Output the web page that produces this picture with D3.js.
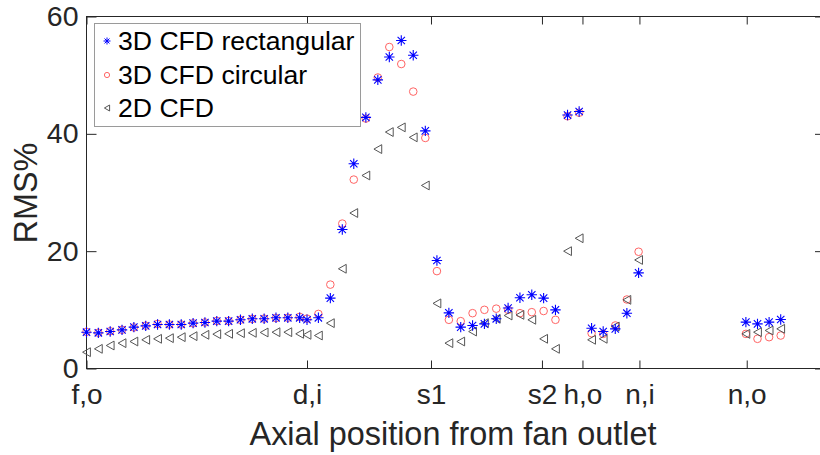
<!DOCTYPE html>
<html>
<head>
<meta charset="utf-8">
<script src="https://cdn.jsdelivr.net/npm/d3@7"></script>
<style>
  body { margin: 0; background: #fff; }
  svg { display: block; font-family: "Liberation Sans", Arial, sans-serif; }
</style>
</head>
<body>
<div id="chart"></div>
<script>
// axial positions (arbitrary units along the duct)
var positions = [0, 1, 2, 3, 4, 5, 6, 7, 8, 9, 10, 11, 12, 13, 14, 15, 16, 17, 18,
  18.62, 19.58, 20.59, 21.6, 22.57, 23.59, 24.6, 25.57, 26.58, 27.59, 28.61,
  29.59, 30.6, 31.6, 32.6, 33.6, 34.6, 35.6, 36.6, 37.6, 38.6, 39.6,
  40.62, 41.6, 42.65, 43.63, 44.65, 45.63, 46.62,
  55.68, 56.66, 57.64, 58.62];

var rectValues = [6.19, 6.08, 6.31, 6.59, 7.05, 7.27, 7.5, 7.5, 7.5, 7.73, 7.84, 8.07, 8.07, 8.3, 8.47, 8.47, 8.64, 8.64, 8.64,
  8.3, 8.64, 12.0, 23.7, 34.9, 42.8, 49.2, 53.1, 55.9, 53.4, 40.5,
  18.4, 9.49, 7.05, 7.33, 7.61, 8.47, 10.3, 12.05, 12.56, 12.0, 10.0,
  43.2, 43.8, 6.87, 6.3, 6.76, 9.43, 16.3,
  7.9, 7.61, 7.9, 8.35];

var circValues = [6.25, 6.1, 6.35, 6.6, 7.0, 7.3, 7.6, 7.5, 7.5, 7.7, 7.85, 8.1, 8.1, 8.3, 8.45, 8.5, 8.6, 8.65, 8.8,
  8.5, 9.3, 14.3, 24.7, 32.2, 42.6, 49.6, 54.8, 51.9, 47.2, 39.3,
  16.6, 8.3, 8.07, 9.43, 10.0, 10.2, 10.0, 9.43, 9.6, 9.8, 8.3,
  43.0, 43.6, 6.02, 5.9, 7.33, 11.76, 19.9,
  5.9, 5.06, 5.34, 5.62];

var cfd2dValues = [2.78, 3.35, 3.92, 4.32, 4.6, 4.89, 5.06, 5.17, 5.34, 5.51, 5.74, 5.85, 5.91, 6.02, 6.08, 6.14, 6.19, 6.19, 5.91,
  5.74, 5.62, 7.73, 17.0, 26.5, 32.9, 37.4, 40.3, 41.1, 39.4, 31.2,
  11.1, 4.32, 4.6, 6.3, 7.73, 8.47, 9.03, 9.14, 8.3, 5.06, 3.35,
  20.0, 22.2, 4.89, 5.06, 7.16, 11.7, 18.5,
  5.9, 6.19, 6.48, 6.76];

var tickNames = ["f,o", "d,i", "s1", "s2", "h,o", "n,i", "n,o"];
var tickPositions = [0, 18.62, 29.09, 38.46, 41.88, 46.69, 55.75];
var yTicks = [0, 20, 40, 60];
var seriesNames = ["3D CFD rectangular", "3D CFD circular", "2D CFD"];

var W = 820, H = 455;
var pLeft = 86.5, pRight = 825, pTop = 16.5, pBottom = 368.5;

var svg = d3.select("#chart").append("svg")
  .attr("width", W)
  .attr("height", H);

var x = d3.scaleLinear().domain([0, 62.36]).range([pLeft, pRight]);
var y = d3.scaleLinear().domain([0, 60]).range([pBottom, pTop]);

var axisColor = "#262626";

// box
svg.append("rect")
  .attr("x", pLeft).attr("y", pTop)
  .attr("width", pRight - pLeft).attr("height", pBottom - pTop)
  .attr("fill", "none").attr("stroke", axisColor).attr("stroke-width", 1);

// bottom axis
var xAxis = d3.axisBottom(x).tickValues(tickPositions)
  .tickFormat(function (d, i) { return tickNames[i]; })
  .tickSizeInner(-8).tickSizeOuter(0).tickPadding(16);
var gx = svg.append("g").attr("transform", "translate(0," + pBottom + ")").call(xAxis);
gx.select(".domain").remove();
gx.selectAll("line").attr("stroke", axisColor);
gx.selectAll("text").attr("fill", axisColor).style("font-size", "28px")
  .attr("y", 16).attr("dy", "0.71em");

// top axis ticks
var gxt = svg.append("g").attr("transform", "translate(0," + pTop + ")")
  .call(d3.axisTop(x).tickValues(tickPositions).tickFormat("").tickSizeInner(-8).tickSizeOuter(0));
gxt.select(".domain").remove();
gxt.selectAll("line").attr("stroke", axisColor);

// left axis
var yAxis = d3.axisLeft(y).tickValues(yTicks).tickFormat(d3.format("d"))
  .tickSizeInner(-10).tickSizeOuter(0).tickPadding(8);
var gy = svg.append("g").attr("transform", "translate(" + pLeft + ",0)").call(yAxis);
gy.select(".domain").remove();
gy.selectAll("line").attr("stroke", axisColor);
gy.selectAll("text").attr("fill", axisColor).style("font-size", "28.5px").attr("x", -8);

// right axis ticks
var gyr = svg.append("g").attr("transform", "translate(" + pRight + ",0)")
  .call(d3.axisRight(y).tickValues(yTicks).tickFormat("").tickSizeInner(-10).tickSizeOuter(0));
gyr.select(".domain").remove();
gyr.selectAll("line").attr("stroke", axisColor);

// axis labels
svg.append("text")
  .attr("x", 453).attr("y", 445)
  .attr("text-anchor", "middle").attr("fill", axisColor)
  .style("font-size", "32.4px")
  .text("Axial position from fan outlet");

svg.append("text")
  .attr("transform", "translate(37,193) rotate(-90)")
  .attr("text-anchor", "middle").attr("fill", axisColor)
  .style("font-size", "32.4px")
  .text("RMS%");

// marker shapes
function starPath(r) {
  var d = r * 0.7071;
  return "M" + (-r) + ",0H" + r + "M0," + (-r) + "V" + r +
    "M" + (-d) + "," + (-d) + "L" + d + "," + d +
    "M" + (-d) + "," + d + "L" + d + "," + (-d);
}
function triPath(w, h) {
  return "M" + (-w) + ",0L" + w + "," + (-h) + "L" + w + "," + h + "Z";
}

var blue = "#0000ff", red = "#ff6464", gray = "#555555";

var plot = svg.append("g");

plot.selectAll(".circ").data(circValues).enter().append("circle")
  .attr("class", "circ")
  .attr("cx", function (d, i) { return x(positions[i]); })
  .attr("cy", function (d) { return y(d); })
  .attr("r", 3.8)
  .attr("fill", "none").attr("stroke", red).attr("stroke-width", 1);

plot.selectAll(".tri").data(cfd2dValues).enter().append("path")
  .attr("class", "tri")
  .attr("transform", function (d, i) { return "translate(" + x(positions[i]) + "," + y(d) + ")"; })
  .attr("d", triPath(3.9, 4.4))
  .attr("fill", "none").attr("stroke", gray).attr("stroke-width", 1);

plot.selectAll(".star").data(rectValues).enter().append("path")
  .attr("class", "star")
  .attr("transform", function (d, i) { return "translate(" + x(positions[i]) + "," + y(d) + ")"; })
  .attr("d", starPath(5.2))
  .attr("fill", "none").attr("stroke", blue).attr("stroke-width", 1.1);

// legend
var legend = svg.append("g");
legend.append("rect")
  .attr("x", 94.5).attr("y", 23.5).attr("width", 266).attr("height", 103)
  .attr("fill", "#fff").attr("stroke", "#9a9a9a").attr("stroke-width", 1);

var rows = [41, 75, 108];
seriesNames.forEach(function (name, i) {
  var g = legend.append("g").attr("transform", "translate(107," + rows[i] + ")");
  if (i === 0) g.append("path").attr("d", starPath(3.5)).attr("stroke", blue).attr("fill", "none");
  if (i === 1) g.append("circle").attr("r", 2.6).attr("stroke", red).attr("fill", "none");
  if (i === 2) g.append("path").attr("d", triPath(2.6, 3)).attr("stroke", gray).attr("fill", "none");
  legend.append("text")
    .attr("x", 118).attr("y", rows[i])
    .attr("dy", "0.35em")
    .attr("fill", "#000")
    .style("font-size", "26.6px")
    .text(name);
});
</script>
</body>
</html>
